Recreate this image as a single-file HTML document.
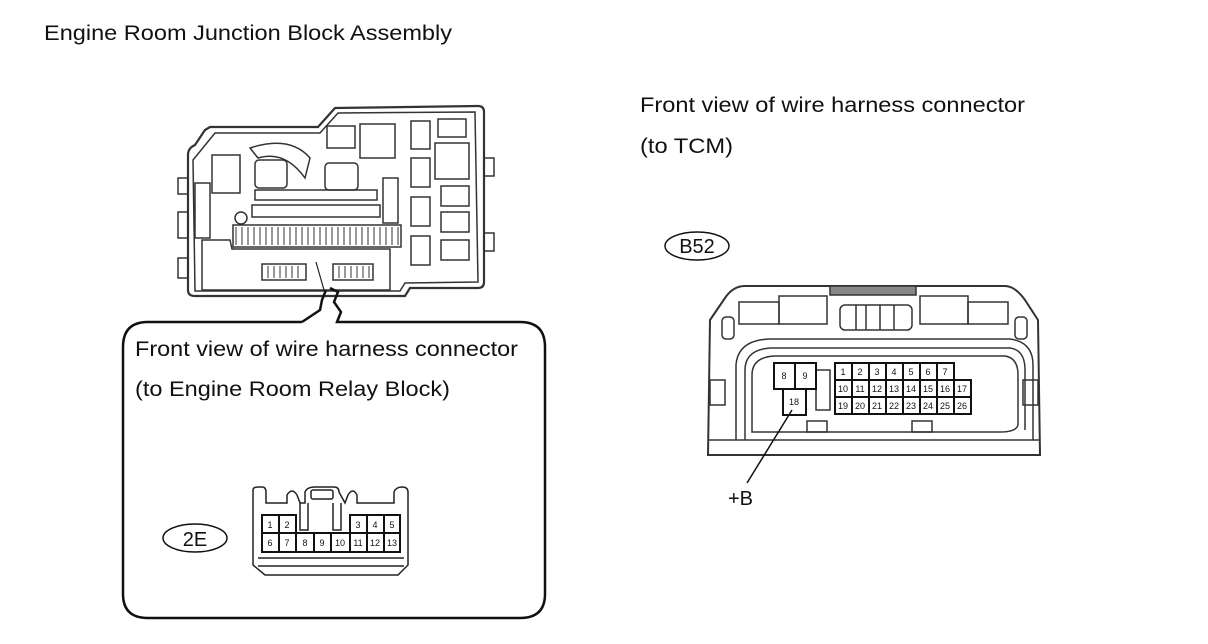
<!DOCTYPE html>
<html><head><meta charset="utf-8"><style>
html,body{margin:0;padding:0;background:#fff;}
svg{display:block;}
text{font-family:"Liberation Sans",Arial,sans-serif;fill:#111;}
.c{font-size:9px;text-anchor:middle;}
</style></head><body>
<svg width="1208" height="644" viewBox="0 0 1208 644" xmlns="http://www.w3.org/2000/svg">
<text x="44" y="40" font-size="21" textLength="408" lengthAdjust="spacingAndGlyphs">Engine Room Junction Block Assembly</text>
<text x="640" y="112" font-size="21" textLength="385" lengthAdjust="spacingAndGlyphs">Front view of wire harness connector</text>
<text x="640" y="153" font-size="21" textLength="93" lengthAdjust="spacingAndGlyphs">(to TCM)</text>
<text x="135" y="356" font-size="21" textLength="383" lengthAdjust="spacingAndGlyphs">Front view of wire harness connector</text>
<text x="135" y="396" font-size="21" textLength="315" lengthAdjust="spacingAndGlyphs">(to Engine Room Relay Block)</text>

<!-- Junction block -->
<g fill="none" stroke="#333" stroke-width="1.5">
<path d="M210 127 L318 127 L335 108 L478 106 Q484 106 484 112 L484 282 Q484 288 478 288 L410 288 L405 296 L195 296 Q188 296 188 290 L188 155 Q188 148 195 145 L205 130 Z" stroke-width="2.2"/>
<path d="M215 133 L320 133 L338 113 L475 112 L478 282 L405 283 L400 291 L195 291 L193 160 Z"/>
<rect x="178" y="178" width="10" height="16"/><rect x="178" y="212" width="10" height="26"/><rect x="178" y="258" width="10" height="20"/>
<rect x="484" y="158" width="10" height="18"/><rect x="484" y="233" width="10" height="18"/>
<rect x="327" y="126" width="28" height="22"/><rect x="360" y="124" width="35" height="34"/>
<rect x="411" y="121" width="19" height="28"/><rect x="438" y="119" width="28" height="18"/>
<rect x="435" y="143" width="34" height="36"/>
<rect x="411" y="158" width="19" height="29"/><rect x="411" y="197" width="19" height="29"/><rect x="411" y="236" width="19" height="29"/>
<rect x="441" y="186" width="28" height="20"/><rect x="441" y="212" width="28" height="20"/><rect x="441" y="240" width="28" height="20"/>
<rect x="212" y="155" width="28" height="38"/>
<path d="M250 148 Q290 135 310 158 L305 178 Q285 150 258 158 Z"/>
<rect x="255" y="160" width="32" height="28" rx="4"/>
<rect x="325" y="163" width="33" height="27" rx="4"/>
<rect x="255" y="190" width="122" height="10"/>
<rect x="252" y="205" width="128" height="12"/>
<circle cx="241" cy="218" r="6"/>
<rect x="233" y="225" width="168" height="22"/>
<path d="M202 240 L230 240 L232 249 L390 249 L390 290 L202 290 Z"/>
<rect x="262" y="264" width="44" height="16"/><rect x="333" y="264" width="40" height="16"/>
<rect x="195" y="183" width="15" height="55"/><rect x="383" y="178" width="15" height="45"/>
</g>
<g stroke="#333" stroke-width="1">
<path d="M236 227v18M242 227v18M248 227v18M254 227v18M260 227v18M266 227v18M272 227v18M278 227v18M284 227v18M290 227v18M296 227v18M302 227v18M308 227v18M314 227v18M320 227v18M326 227v18M332 227v18M338 227v18M344 227v18M350 227v18M356 227v18M362 227v18M368 227v18M374 227v18M380 227v18M386 227v18M392 227v18M398 227v18"/>
<path d="M268 266v12M274 266v12M280 266v12M286 266v12M292 266v12M298 266v12M339 266v12M345 266v12M351 266v12M357 266v12M363 266v12M369 266v12"/>
</g>
<path d="M316 262 L324 290" stroke="#222" stroke-width="1.2"/>

<!-- callout box -->
<path d="M302 322 L148 322 Q123 322 123 347 L123 594 Q123 618 148 618 L520 618 Q545 618 545 594 L545 347 Q545 322 520 322 L337 322 L341 312 L334 302 L338 292 L330 288 M302 322 L320 310 L322 300 L326 290" fill="none" stroke="#111" stroke-width="2.5"/>

<!-- 2E oval -->
<ellipse cx="195" cy="538" rx="32" ry="14" fill="none" stroke="#111" stroke-width="1.5"/>
<text x="195" y="546" font-size="20" text-anchor="middle">2E</text>

<!-- 2E connector -->
<g fill="none" stroke="#222" stroke-width="1.5">
<path d="M253 490 Q253 487 258 487 L262 487 Q266 487 266 492 L266 503 L287 503 L287 495 Q292 487 297 495 L300 503 L305 503 L305 492 Q307 487 315 487 L334 487 Q339 487 339 492 L345 503 L348 495 Q353 487 357 495 L357 503 L394 503 L394 492 Q396 487 402 487 Q408 487 408 492 L408 565 L398 575 L265 575 L253 565 Z"/>
<rect x="311" y="490" width="22" height="9" rx="2"/>
<path d="M300 503 L300 530 L308 530 L308 503 M333 503 L333 530 L341 530 L341 503"/>
<path d="M258 558 L404 558 M258 566 L404 566"/>
</g>
<g fill="#fff" stroke="#111" stroke-width="2">
<rect x="262" y="515" width="17" height="18"/><rect x="279" y="515" width="17" height="18"/>
<rect x="350" y="515" width="17" height="18"/><rect x="367" y="515" width="17" height="18"/><rect x="384" y="515" width="16" height="18"/>
<rect x="262" y="533" width="17" height="19"/><rect x="279" y="533" width="17" height="19"/><rect x="296" y="533" width="18" height="19"/><rect x="314" y="533" width="17" height="19"/><rect x="331" y="533" width="19" height="19"/><rect x="350" y="533" width="17" height="19"/><rect x="367" y="533" width="17" height="19"/><rect x="384" y="533" width="16" height="19"/>
</g>
<g>
<text x="270" y="528" class="c">1</text><text x="287" y="528" class="c">2</text><text x="358" y="528" class="c">3</text><text x="375" y="528" class="c">4</text><text x="392" y="528" class="c">5</text>
<text x="270" y="546" class="c">6</text><text x="287" y="546" class="c">7</text><text x="305" y="546" class="c">8</text><text x="322" y="546" class="c">9</text><text x="340" y="546" class="c">10</text><text x="358" y="546" class="c">11</text><text x="375" y="546" class="c">12</text><text x="392" y="546" class="c">13</text>
</g>

<!-- B52 oval -->
<ellipse cx="697" cy="246" rx="32" ry="14" fill="none" stroke="#111" stroke-width="1.5"/>
<text x="697" y="253" font-size="20" text-anchor="middle">B52</text>

<!-- B52 connector -->
<g fill="none" stroke="#333" stroke-width="1.5">
<path d="M745 286 L1005 286 Q1015 286 1025 300 L1038 320 L1040 455 L708 455 L710 320 L725 298 Q733 286 745 286 Z" stroke-width="2"/>
<rect x="830" y="286" width="86" height="9" fill="#888"/>
<rect x="739" y="302" width="40" height="22"/><rect x="779" y="296" width="48" height="28"/>
<rect x="920" y="296" width="48" height="28"/><rect x="968" y="302" width="40" height="22"/>
<rect x="840" y="305" width="72" height="25" rx="5"/>
<path d="M856 305v25M866 305v25M880 305v25M894 305v25"/>
<rect x="722" y="317" width="12" height="22" rx="4"/><rect x="1015" y="317" width="12" height="22" rx="4"/>
<path d="M745 440 L745 370 Q745 350 770 348 L1010 348 Q1025 350 1025 370 L1025 430"/>
<path d="M752 432 L752 375 Q752 357 775 356 L1005 356 Q1018 358 1018 375 L1018 425 Q1016 432 1000 432 Z"/>
<path d="M736 440 L736 365 Q738 340 770 339 L1010 339 Q1033 342 1033 365 L1033 440"/>
<rect x="710" y="380" width="15" height="25"/><rect x="1023" y="380" width="15" height="25"/>
<rect x="807" y="421" width="20" height="11"/><rect x="912" y="421" width="20" height="11"/>
<path d="M708 440 L1040 440"/>
<path d="M816 370 L830 370 L830 410 L816 410 Z"/>
</g>
<g fill="#fff" stroke="#111" stroke-width="2">
<rect x="774" y="363" width="21" height="26"/><rect x="795" y="363" width="21" height="26"/>
<rect x="783" y="389" width="23" height="26"/>
<rect x="835" y="363" width="17" height="17"/><rect x="852" y="363" width="17" height="17"/><rect x="869" y="363" width="17" height="17"/><rect x="886" y="363" width="17" height="17"/><rect x="903" y="363" width="17" height="17"/><rect x="920" y="363" width="17" height="17"/><rect x="937" y="363" width="17" height="17"/>
<rect x="835" y="380" width="17" height="17"/><rect x="852" y="380" width="17" height="17"/><rect x="869" y="380" width="17" height="17"/><rect x="886" y="380" width="17" height="17"/><rect x="903" y="380" width="17" height="17"/><rect x="920" y="380" width="17" height="17"/><rect x="937" y="380" width="17" height="17"/><rect x="954" y="380" width="17" height="17"/>
<rect x="835" y="397" width="17" height="17"/><rect x="852" y="397" width="17" height="17"/><rect x="869" y="397" width="17" height="17"/><rect x="886" y="397" width="17" height="17"/><rect x="903" y="397" width="17" height="17"/><rect x="920" y="397" width="17" height="17"/><rect x="937" y="397" width="17" height="17"/><rect x="954" y="397" width="17" height="17"/>
</g>
<text x="784" y="379" class="c">8</text><text x="805" y="379" class="c">9</text><text x="794" y="405" class="c">18</text>
<text x="843" y="375" class="c">1</text><text x="860" y="375" class="c">2</text><text x="877" y="375" class="c">3</text><text x="894" y="375" class="c">4</text><text x="911" y="375" class="c">5</text><text x="928" y="375" class="c">6</text><text x="945" y="375" class="c">7</text>
<text x="843" y="392" class="c">10</text><text x="860" y="392" class="c">11</text><text x="877" y="392" class="c">12</text><text x="894" y="392" class="c">13</text><text x="911" y="392" class="c">14</text><text x="928" y="392" class="c">15</text><text x="945" y="392" class="c">16</text><text x="962" y="392" class="c">17</text>
<text x="843" y="409" class="c">19</text><text x="860" y="409" class="c">20</text><text x="877" y="409" class="c">21</text><text x="894" y="409" class="c">22</text><text x="911" y="409" class="c">23</text><text x="928" y="409" class="c">24</text><text x="945" y="409" class="c">25</text><text x="962" y="409" class="c">26</text>
<path d="M792 410 L747 483" stroke="#111" stroke-width="1.5"/>
<text x="728" y="505" font-size="20">+B</text>
</svg>
</body></html>
